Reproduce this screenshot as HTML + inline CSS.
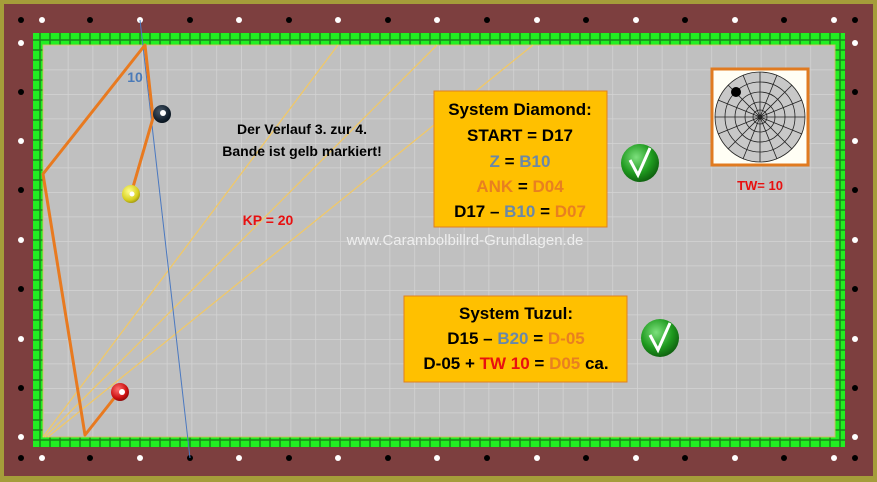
<!DOCTYPE html>
<html><head><meta charset="utf-8"><style>
body{margin:0;width:877px;height:482px;overflow:hidden;background:#fff}
svg{display:block}
</style></head><body>
<svg width="877" height="482" viewBox="0 0 877 482" xmlns="http://www.w3.org/2000/svg" font-family="Liberation Sans, sans-serif">
<defs>
<pattern id="gx" x="43" y="45" width="24.75" height="24.5" patternUnits="userSpaceOnUse">
<rect width="24.75" height="24.5" fill="#c0c0c0"/>
<path d="M0 0V24.5M0 0H24.75" stroke="#d4d4d4" stroke-width="1.5"/>
</pattern>
<pattern id="ch" x="0" y="0" width="10" height="10" patternUnits="userSpaceOnUse">
<rect width="10" height="10" fill="#1a8a1a"/>
<rect x="0.8" y="0.8" width="8.4" height="8.4" fill="#22ee22"/>
</pattern>
<radialGradient id="gk" cx="0.4" cy="0.35" r="0.7"><stop offset="0" stop-color="#7de07d"/><stop offset="0.6" stop-color="#1f9a1f"/><stop offset="1" stop-color="#0d5a0d"/></radialGradient>
<radialGradient id="by" cx="0.4" cy="0.35" r="0.7"><stop offset="0" stop-color="#ffff90"/><stop offset="0.7" stop-color="#d8d020"/><stop offset="1" stop-color="#9a9010"/></radialGradient>
<radialGradient id="br" cx="0.4" cy="0.35" r="0.7"><stop offset="0" stop-color="#ff7070"/><stop offset="0.7" stop-color="#cc1010"/><stop offset="1" stop-color="#800808"/></radialGradient>
<radialGradient id="bb" cx="0.4" cy="0.35" r="0.7"><stop offset="0" stop-color="#4a5a6a"/><stop offset="0.7" stop-color="#142230"/><stop offset="1" stop-color="#05101a"/></radialGradient>
</defs>
<rect width="877" height="482" fill="#a59d3a"/>
<rect x="4" y="4" width="869" height="472" fill="#7d3f3f"/>
<rect x="33" y="33" width="812" height="414" fill="url(#ch)"/>
<rect x="43" y="45" width="792" height="392" fill="url(#gx)"/>
<rect x="43" y="45" width="792" height="392" fill="none" stroke="#c8c060" stroke-width="1"/>
<g fill="#000">
<circle cx="21" cy="20" r="3"/><circle cx="855" cy="20" r="3"/><circle cx="21" cy="458" r="3"/><circle cx="855" cy="458" r="3"/>
<circle cx="90" cy="20" r="3"/><circle cx="190" cy="20" r="3"/><circle cx="289" cy="20" r="3"/><circle cx="388" cy="20" r="3"/><circle cx="487" cy="20" r="3"/><circle cx="586" cy="20" r="3"/><circle cx="685" cy="20" r="3"/><circle cx="784" cy="20" r="3"/>
<circle cx="90" cy="458" r="3"/><circle cx="190" cy="458" r="3"/><circle cx="289" cy="458" r="3"/><circle cx="388" cy="458" r="3"/><circle cx="487" cy="458" r="3"/><circle cx="586" cy="458" r="3"/><circle cx="685" cy="458" r="3"/><circle cx="784" cy="458" r="3"/>
<circle cx="21" cy="92" r="3"/><circle cx="21" cy="190" r="3"/><circle cx="21" cy="289" r="3"/><circle cx="21" cy="388" r="3"/>
<circle cx="855" cy="92" r="3"/><circle cx="855" cy="190" r="3"/><circle cx="855" cy="289" r="3"/><circle cx="855" cy="388" r="3"/>
</g>
<g fill="#fff">
<circle cx="42" cy="20" r="3"/><circle cx="140" cy="20" r="3"/><circle cx="239" cy="20" r="3"/><circle cx="338" cy="20" r="3"/><circle cx="437" cy="20" r="3"/><circle cx="537" cy="20" r="3"/><circle cx="636" cy="20" r="3"/><circle cx="735" cy="20" r="3"/><circle cx="834" cy="20" r="3"/>
<circle cx="42" cy="458" r="3"/><circle cx="140" cy="458" r="3"/><circle cx="239" cy="458" r="3"/><circle cx="338" cy="458" r="3"/><circle cx="437" cy="458" r="3"/><circle cx="537" cy="458" r="3"/><circle cx="636" cy="458" r="3"/><circle cx="735" cy="458" r="3"/><circle cx="834" cy="458" r="3"/>
<circle cx="21" cy="43" r="3"/><circle cx="21" cy="141" r="3"/><circle cx="21" cy="240" r="3"/><circle cx="21" cy="339" r="3"/><circle cx="21" cy="437" r="3"/>
<circle cx="855" cy="43" r="3"/><circle cx="855" cy="141" r="3"/><circle cx="855" cy="240" r="3"/><circle cx="855" cy="339" r="3"/><circle cx="855" cy="437" r="3"/>
</g>
<g stroke="#f0c868" stroke-width="1.3">
<line x1="43" y1="437" x2="338" y2="45"/><line x1="45" y1="437" x2="437" y2="45"/><line x1="48" y1="437" x2="533" y2="45"/>
</g>
<line x1="140" y1="20" x2="190" y2="458" stroke="#4a78c0" stroke-width="1"/>
<polyline points="131,194 153,118 145,45 43,174 85,435 119,392" fill="none" stroke="#e87a20" stroke-width="3" stroke-linejoin="round"/>
<circle cx="162" cy="114" r="9" fill="url(#bb)"/><circle cx="163" cy="113" r="3" fill="#fff"/>
<circle cx="131" cy="194" r="9" fill="url(#by)"/><circle cx="132" cy="194" r="2.5" fill="#fff"/>
<circle cx="120" cy="392" r="9" fill="url(#br)"/><circle cx="122" cy="392" r="3" fill="#fff"/>
<text x="135" y="82" font-size="14" font-weight="bold" fill="#4a7ab8" text-anchor="middle">10</text>
<text x="302" y="134" font-size="14" font-weight="bold" fill="#000" text-anchor="middle">Der Verlauf 3. zur 4.</text>
<text x="302" y="156" font-size="14" font-weight="bold" fill="#000" text-anchor="middle">Bande ist gelb markiert!</text>
<text x="268" y="225" font-size="14" font-weight="bold" fill="#e81010" text-anchor="middle">KP = 20</text>
<text x="465" y="245" font-size="15" fill="#eeeeee" text-anchor="middle">www.Carambolbillrd-Grundlagen.de</text>
<rect x="434" y="91" width="173" height="136" fill="#ffc000" stroke="#e08020" stroke-width="1"/>
<g font-size="17" font-weight="bold" text-anchor="middle">
<text x="520" y="115" fill="#000">System Diamond:</text>
<text x="520" y="141" fill="#000">START = D17</text>
<text x="520" y="167"><tspan fill="#6a88a8">Z</tspan><tspan fill="#000"> = </tspan><tspan fill="#6a88a8">B10</tspan></text>
<text x="520" y="192"><tspan fill="#e88020">ANK</tspan><tspan fill="#000"> = </tspan><tspan fill="#e88020">D04</tspan></text>
<text x="520" y="217"><tspan fill="#000">D17 – </tspan><tspan fill="#6a88a8">B10</tspan><tspan fill="#000"> = </tspan><tspan fill="#e88020">D07</tspan></text>
</g>
<rect x="404" y="296" width="223" height="86" fill="#ffc000" stroke="#e08020" stroke-width="1"/>
<g font-size="17" font-weight="bold" text-anchor="middle">
<text x="516" y="319" fill="#000">System Tuzul:</text>
<text x="516" y="344"><tspan fill="#000">D15 – </tspan><tspan fill="#6a88a8">B20</tspan><tspan fill="#000"> = </tspan><tspan fill="#e88020">D-05</tspan></text>
<text x="516" y="369"><tspan fill="#000">D-05 + </tspan><tspan fill="#e81010">TW 10</tspan><tspan fill="#000"> = </tspan><tspan fill="#e88020">D05</tspan><tspan fill="#000"> ca.</tspan></text>
</g>
<g><circle cx="640" cy="163" r="19" fill="url(#gk)"/><path d="M630 160 L638 175 L650 148" fill="none" stroke="#fff" stroke-width="3"/></g>
<g><circle cx="660" cy="338" r="19" fill="url(#gk)"/><path d="M650 335 L658 350 L670 323" fill="none" stroke="#fff" stroke-width="3"/></g>
<rect x="712" y="69" width="96" height="96" fill="#fffef5" stroke="#e07a20" stroke-width="3"/>
<g stroke="#222" stroke-width="0.8" fill="none">
<circle cx="760" cy="117" r="45" fill="#c8c8c8"/>
<circle cx="760" cy="117" r="35"/><circle cx="760" cy="117" r="25"/><circle cx="760" cy="117" r="15"/><circle cx="760" cy="117" r="7"/>
<path d="M715 117H805M760 72V162M728 85L792 149M792 85L728 149M718 100L802 134M802 100L718 134M743 75L777 159M777 75L743 159"/>
</g>
<circle cx="736" cy="92" r="5" fill="#000"/>
<text x="760" y="190" font-size="13" font-weight="bold" fill="#e81010" text-anchor="middle">TW= 10</text>
</svg>
</body></html>
